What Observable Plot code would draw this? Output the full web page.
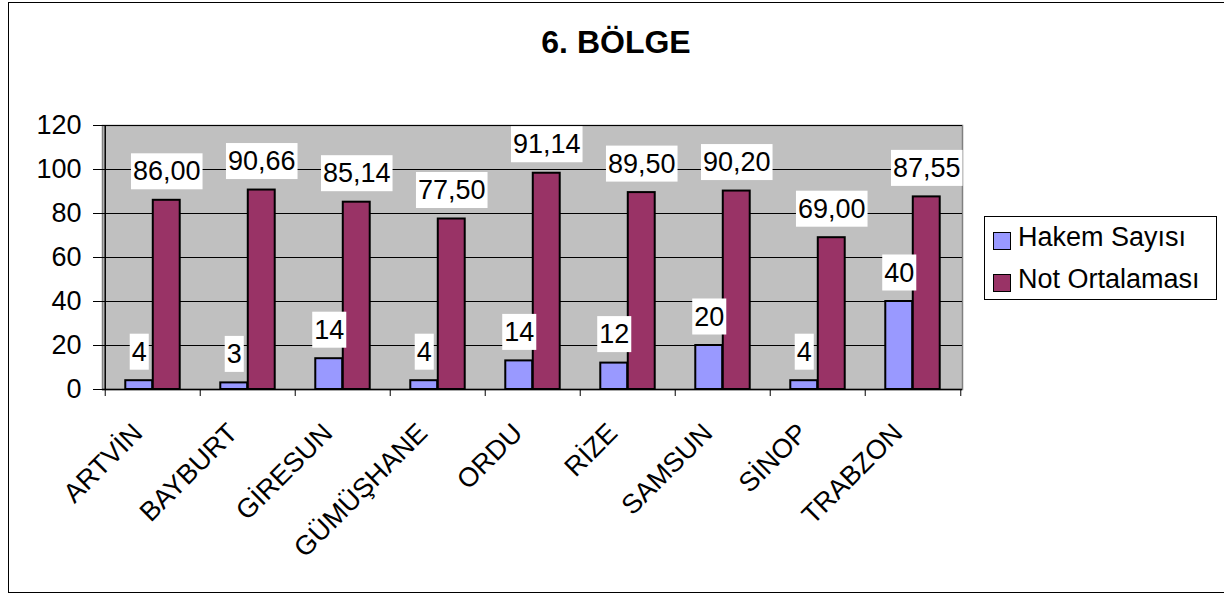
<!DOCTYPE html>
<html>
<head>
<meta charset="utf-8">
<script src="https://cdn.jsdelivr.net/npm/d3@7"></script>
<script src="https://cdn.jsdelivr.net/npm/@observablehq/plot@0.6"></script>
<style>
  html, body { margin: 0; padding: 0; background: #fff; overflow: hidden; }
  body { width: 1224px; height: 596px; position: relative; font-family: "Liberation Sans", Arial, sans-serif; }
  #frame { position: absolute; left: 8px; top: 2px; width: 1240px; height: 591px; border: 1.5px solid #000; box-sizing: border-box; }
  #title { position: absolute; left: 0; top: 26px; width: 1232px; text-align: center; font-weight: bold; font-size: 32px; line-height: 32px; }
  #legend { position: absolute; left: 984px; top: 216px; width: 233px; height: 84px; border: 1px solid #000; box-sizing: border-box; background: #fff; }
  .sw { position: absolute; left: 8px; width: 18px; height: 18px; border: 1.5px solid #000; box-sizing: border-box; }
  .lt { position: absolute; left: 33px; font-size: 27px; line-height: 27px; white-space: nowrap; }
  #chart { position: absolute; left: 0; top: 0; }
</style>
</head>
<body>
<div id="chart"></div>
<div id="frame"></div>
<div id="title"></div>
<div id="legend"></div>
<script>
const title = "6. BÖLGE";
const cities = ["ARTVİN", "BAYBURT", "GİRESUN", "GÜMÜŞHANE", "ORDU", "RİZE", "SAMSUN", "SİNOP", "TRABZON"];
const hakem = [4, 3, 14, 4, 13, 12, 20, 4, 40];
const hakemLabels = ["4", "3", "14", "4", "14", "12", "20", "4", "40"];
const notOrt = [86, 90.66, 85.14, 77.5, 98.3, 89.5, 90.2, 69, 87.55];
const notLabels = ["86,00", "90,66", "85,14", "77,50", "91,14", "89,50", "90,20", "69,00", "87,55"];
const seriesNames = ["Hakem Sayısı", "Not Ortalaması"];
const seriesColors = ["#9999ff", "#993366"];
const yTicks = [0, 20, 40, 60, 80, 100, 120];

const rows = cities.map((c, i) => ({city: c, hakem: hakem[i], hakemLabel: hakemLabels[i], not: notOrt[i], notLabel: notLabels[i]}));

const W = 1224, H = 596, ML = 102, MR = 262, MT = 125, MB = 207;
const bw = (W - ML - MR) / cities.length;
const barW = 27.5;
const FONT = "'Liberation Sans', Arial, sans-serif";

const chart = Plot.plot({
  width: W, height: H,
  marginLeft: ML, marginRight: MR, marginTop: MT, marginBottom: MB,
  style: {fontFamily: FONT, fontSize: "27px", color: "#000", background: "transparent"},
  x: {domain: cities, padding: 0, axis: null},
  y: {domain: [0, 120], axis: null},
  marks: [
    Plot.frame({fill: "#c0c0c0", stroke: "#808080", strokeWidth: 1.5}),
    Plot.ruleY(yTicks, {stroke: "#000", strokeWidth: 1}),
    Plot.barY(rows, {x: "city", y: "hakem", fill: seriesColors[0], stroke: "#000", strokeWidth: 2, insetLeft: bw / 2 - barW, insetRight: bw / 2}),
    Plot.barY(rows, {x: "city", y: "not", fill: seriesColors[1], stroke: "#000", strokeWidth: 2, insetLeft: bw / 2, insetRight: bw / 2 - barW}),
    Plot.ruleX(cities.slice(0, 1), {x: d => d, dx: -bw / 2, stroke: "#000", strokeWidth: 1.5}),
    Plot.ruleY([0], {stroke: "#000", strokeWidth: 1.5}),
    Plot.axisY({ticks: yTicks, tickSize: 9, tickPadding: 12, fontSize: 27, label: null, stroke: "#000"}),
    Plot.axisX({ticks: cities, tickSize: 7, tickFormat: () => "", dx: -bw / 2, label: null}),
    Plot.axisX({ticks: cities.slice(-1), tickSize: 7, tickFormat: () => "", dx: bw / 2, label: null}),
    Plot.axisX({ticks: cities, tickSize: 0, tickPadding: 39, tickRotate: -45, dx: -15, fontSize: 27, label: null}),
    Plot.text(rows, {x: "city", y: "hakem", text: "hakemLabel", dx: -barW / 2, dy: -20, lineAnchor: "bottom", textAnchor: "middle", fontSize: 27, fill: "#000"}),
    Plot.text(rows, {x: "city", y: "not", text: "notLabel", dx: barW / 2, dy: -20, lineAnchor: "bottom", textAnchor: "middle", fontSize: 27, fill: "#000"})
  ]
});
document.getElementById("chart").appendChild(chart);

// white boxes behind value labels
chart.querySelectorAll('g[aria-label="text"] text').forEach(t => {
  const b = t.getBBox();
  const r = document.createElementNS("http://www.w3.org/2000/svg", "rect");
  r.setAttribute("x", b.x - 2);
  r.setAttribute("y", b.y - 3);
  r.setAttribute("width", b.width + 4);
  r.setAttribute("height", b.height + 6);
  r.setAttribute("fill", "#fff");
  const tr = t.getAttribute("transform");
  if (tr) r.setAttribute("transform", tr);
  t.parentNode.insertBefore(r, t);
});

document.getElementById("title").textContent = title;
const legend = document.getElementById("legend");
seriesNames.forEach((name, i) => {
  const sw = document.createElement("div");
  sw.className = "sw";
  sw.style.top = (15 + 42 * i) + "px";
  sw.style.background = seriesColors[i];
  legend.appendChild(sw);
  const lt = document.createElement("div");
  lt.className = "lt";
  lt.style.top = (7 + 42 * i) + "px";
  lt.textContent = name;
  legend.appendChild(lt);
});
</script>
</body>
</html>
